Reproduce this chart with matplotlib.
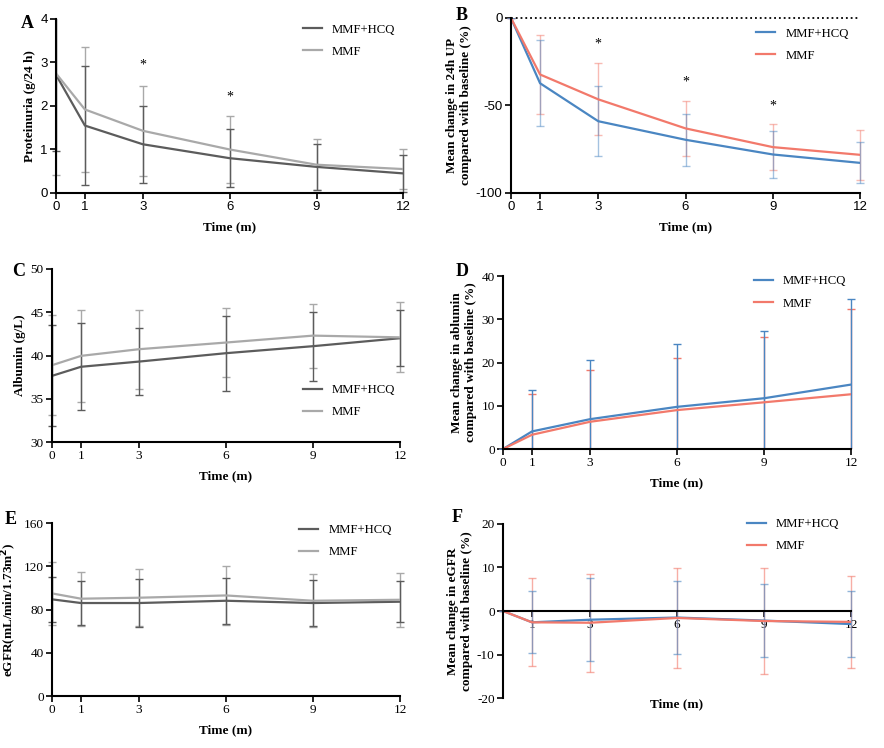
import matplotlib.pyplot as plt
from matplotlib.colors import to_rgba
from matplotlib.transforms import Bbox, TransformedBbox

plt.rcParams['font.family'] = ['Liberation Serif', 'DejaVu Serif']
plt.rcParams['axes.unicode_minus'] = False

months = [0, 1, 3, 6, 9, 12]
groups = ['MMF+HCQ', 'MMF']

# A - proteinuria (g/24 h), mean and SD
up_hcq = [2.72, 1.55, 1.12, 0.80, 0.60, 0.45]
up_hcq_sd = [1.75, 1.37, 0.89, 0.67, 0.52, 0.43]
up_mmf = [2.75, 1.92, 1.43, 1.00, 0.65, 0.55]
up_mmf_sd = [2.34, 1.44, 1.04, 0.76, 0.58, 0.45]

# B - % change in 24h UP
upc_hcq = [0, -37.3, -59.0, -69.6, -78.0, -82.8]
upc_hcq_sd = [0, 24.6, 20.0, 14.7, 13.3, 11.7]
upc_mmf = [0, -32.3, -46.5, -63.1, -73.8, -78.2]
upc_mmf_sd = [0, 22.3, 20.6, 15.5, 13.0, 14.2]

# C - albumin (g/L)
alb_hcq = [37.65, 38.7, 39.3, 40.27, 41.08, 42.0]
alb_hcq_sd = [5.85, 5.03, 3.85, 4.33, 4.0, 3.23]
alb_mmf = [38.88, 39.96, 40.73, 41.5, 42.3, 42.1]
alb_mmf_sd = [5.77, 5.34, 4.57, 4.0, 3.7, 4.05]

# D - % change in albumin
albc_hcq = [0, 4.07, 6.9, 9.75, 11.74, 14.9]
albc_hcq_sd = [0, 9.6, 13.6, 14.45, 15.5, 19.9]
albc_mmf = [0, 3.3, 6.3, 9.0, 10.8, 12.66]
albc_mmf_sd = [0, 9.36, 11.96, 11.95, 15.0, 19.8]

# E - eGFR
egfr_hcq = [89.4, 86.0, 86.0, 88.1, 86.0, 87.2]
egfr_hcq_sd = [20.9, 20.0, 21.8, 21.5, 20.9, 18.8]
egfr_mmf = [94.9, 90.0, 90.9, 93.0, 88.1, 89.0]
egfr_mmf_sd = [28.9, 24.9, 26.1, 27.4, 24.3, 25.2]

# F - % change in eGFR
egfrc_hcq = [0, -2.6, -2.0, -1.5, -2.2, -3.0]
egfrc_hcq_sd = [0, 7.1, 9.5, 8.4, 8.35, 7.5]
egfrc_mmf = [0, -2.6, -2.7, -1.6, -2.3, -2.5]
egfrc_mmf_sd = [0, 10.1, 11.3, 11.4, 12.1, 10.6]

grays = ['#5c5c5c', '#a9a9a9']
colors = ['#4a86c2', '#f2796b']

fig = plt.figure(figsize=(8.84, 7.48), dpi=100)


def panel(rect, series, cols, ylim, yticks, ylabel, sans=False, ealpha=1.0):
    ax = fig.add_axes(rect)
    # error bars clipped only vertically so the caps at x=0 / x=12 stay whole
    clip = TransformedBbox(Bbox([[-0.1, 0], [1.1, 1]]), ax.transAxes)
    for (m, sd), c in reversed(list(zip(series, cols))):
        eb = ax.errorbar(months, m, yerr=sd, fmt='none', ecolor=to_rgba(c, ealpha),
                         elinewidth=1, capsize=3.2, capthick=1)
        for art in list(eb[1]) + list(eb[2]):
            art.set_clip_box(clip)
    for (m, sd), c, lab in zip(series, cols, groups):
        ax.plot(months, m, color=c, lw=1.6, label=lab)
    ax.set_xlim(0, 12)
    ax.set_ylim(*ylim)
    ax.set_xticks(months)
    ax.set_yticks(yticks)
    for s in ['top', 'right']:
        ax.spines[s].set_visible(False)
    for s in ['left', 'bottom']:
        ax.spines[s].set_linewidth(1.5)
    ax.tick_params(width=1.2, length=4, labelsize=9.5, pad=2)
    if sans:
        for t in ax.get_xticklabels() + ax.get_yticklabels():
            t.set_family('Liberation Sans')
    ax.set_ylabel(ylabel, fontsize=9.5, fontweight='bold', labelpad=3)
    ax.set_xlabel('Time (m)', fontsize=9.5, fontweight='bold', labelpad=6)
    return ax


def legend(ax, loc, anchor):
    ax.legend(loc=loc, bbox_to_anchor=anchor, frameon=False, fontsize=9.2,
              handlelength=1.5, labelspacing=0.8, handletextpad=0.8)


# A
axA = panel([0.0633, 0.742, 0.393, 0.2326], [(up_hcq, up_hcq_sd), (up_mmf, up_mmf_sd)],
            grays, (0, 4), [0, 1, 2, 3, 4], 'Proteinuria (g/24 h)', sans=True)
legend(axA, 'upper right', (1.01, 1.04))
axA.text(3, 2.93, '*', ha='center', va='center', fontsize=10)
axA.text(6, 2.2, '*', ha='center', va='center', fontsize=10)

# B
axB = panel([0.578, 0.742, 0.395, 0.234], [(upc_hcq, upc_hcq_sd), (upc_mmf, upc_mmf_sd)],
            colors, (-100, 0), [-100, -50, 0],
            'Mean change in 24h UP\ncompared with baseline (%)', sans=True, ealpha=0.5)
axB.axhline(0, ls=':', color='k', lw=1.3, clip_on=False)
legend(axB, 'upper right', (1.0, 1.01))
for x, y in [(3, -15), (6, -36.5), (9, -50.3)]:
    axB.text(x, y, '*', ha='center', va='center', fontsize=10)

# C
axC = panel([0.0588, 0.409, 0.3937, 0.2314], [(alb_hcq, alb_hcq_sd), (alb_mmf, alb_mmf_sd)],
            grays, (30, 50), [30, 35, 40, 45, 50], 'Albumin (g/L)')
legend(axC, 'lower right', (1.02, 0.07))

# D
axD = panel([0.569, 0.3997, 0.3937, 0.2313], [(albc_hcq, albc_hcq_sd), (albc_mmf, albc_mmf_sd)],
            colors, (0, 40), [0, 10, 20, 30, 40],
            'Mean change in ablumin\ncompared with baseline (%)')
legend(axD, 'upper right', (1.02, 1.07))

# E
axE = panel([0.0588, 0.0695, 0.3937, 0.2313], [(egfr_hcq, egfr_hcq_sd), (egfr_mmf, egfr_mmf_sd)],
            grays, (0, 160), [0, 40, 80, 120, 160], r'eGFR(mL/min/1.73m$^\mathbf{2}$)')
legend(axE, 'upper right', (1.01, 1.06))

# F
axF = panel([0.569, 0.0668, 0.3937, 0.2327], [(egfrc_hcq, egfrc_hcq_sd), (egfrc_mmf, egfrc_mmf_sd)],
            colors, (-20, 20), [-20, -10, 0, 10, 20],
            'Mean change in eGFR\ncompared with baseline (%)', ealpha=0.6)
axF.spines['bottom'].set_position(('data', 0))
axF.xaxis.set_label_coords(0.5, 0.0)
axF.set_xticklabels(['', '1', '3', '6', '9', '12'])
legend(axF, 'upper right', (1.0, 1.1))

for lab, x, y in [('A', 27, 23), ('B', 462, 16), ('C', 19, 272), ('D', 462, 272),
                  ('E', 11, 520), ('F', 457, 518)]:
    fig.text(x / 884, 1 - y / 748, lab, ha='center', va='center', fontsize=13, fontweight='bold')

fig.savefig('out.png', dpi=100)
